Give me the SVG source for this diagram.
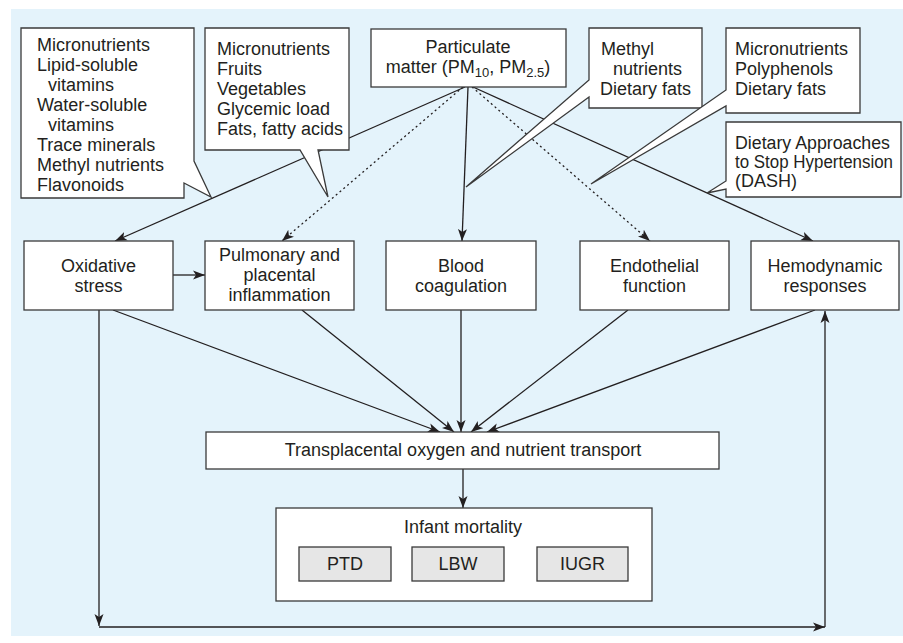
<svg xmlns="http://www.w3.org/2000/svg" width="903" height="643" viewBox="0 0 903 643">
<style>
.bg{fill:#e4f3fb}
.box{fill:#ffffff;stroke:#3a3a3a;stroke-width:1.3}
.gbox{fill:#e6e6e6;stroke:#3a3a3a;stroke-width:1.3}
.t{font-family:"Liberation Sans",Arial,sans-serif;font-size:18px;fill:#231f20}
.c{text-anchor:middle}
.ln{stroke:#231f20;stroke-width:1.3;fill:none}
.dot{stroke:#231f20;stroke-width:1.3;fill:none;stroke-dasharray:2 3}
</style>
<defs>
<marker id="ah" markerUnits="userSpaceOnUse" markerWidth="13" markerHeight="10" refX="12" refY="5" orient="auto">
<path d="M0,0.5 L12,5 L0,9.5 L3,5 Z" fill="#231f20"/>
</marker>
</defs>
<rect class="bg" x="11" y="9" width="892" height="627"/>
<g id="connectors">
<line class="ln" x1="465" y1="87" x2="115" y2="241" marker-end="url(#ah)"/>
<line class="dot" x1="463" y1="87" x2="282" y2="241" marker-end="url(#ah)"/>
<line class="ln" x1="468" y1="87" x2="462" y2="241" marker-end="url(#ah)"/>
<line class="dot" x1="472" y1="87" x2="650" y2="241" marker-end="url(#ah)"/>
<line class="ln" x1="473" y1="87" x2="813" y2="241" marker-end="url(#ah)"/>
<line class="ln" x1="173" y1="275" x2="205" y2="275" marker-end="url(#ah)"/>
<line class="ln" x1="113" y1="310" x2="440" y2="432" marker-end="url(#ah)"/>
<line class="ln" x1="302" y1="310" x2="454" y2="432" marker-end="url(#ah)"/>
<line class="ln" x1="461" y1="310" x2="461" y2="432" marker-end="url(#ah)"/>
<line class="ln" x1="628" y1="310" x2="471" y2="432" marker-end="url(#ah)"/>
<line class="ln" x1="815" y1="310" x2="487" y2="432" marker-end="url(#ah)"/>
<line class="ln" x1="463" y1="469" x2="463" y2="508" marker-end="url(#ah)"/>
<line class="ln" x1="99" y1="310" x2="99" y2="626" marker-end="url(#ah)"/>
<line class="ln" x1="99" y1="627" x2="825" y2="627" marker-end="url(#ah)"/>
<line class="ln" x1="825" y1="627" x2="825" y2="311" marker-end="url(#ah)"/>
</g>
<g id="callout-micronutrients-vitamins">
<path class="box" d="M21,28 H194 V161 L211,197 L184,183 V198 H21 Z"/>
<text class="t" x="37" y="51">Micronutrients</text>
<text class="t" x="37" y="71">Lipid-soluble</text>
<text class="t" x="48" y="91">vitamins</text>
<text class="t" x="37" y="111">Water-soluble</text>
<text class="t" x="48" y="131">vitamins</text>
<text class="t" x="37" y="151">Trace minerals</text>
<text class="t" x="37" y="171">Methyl nutrients</text>
<text class="t" x="37" y="191">Flavonoids</text>
</g>
<g id="callout-fruits">
<path class="box" d="M205,28 H349 V150 H318 L328,197 L300,150 H205 Z"/>
<text class="t" x="217" y="55">Micronutrients</text>
<text class="t" x="217" y="75">Fruits</text>
<text class="t" x="217" y="95">Vegetables</text>
<text class="t" x="217" y="115">Glycemic load</text>
<text class="t" x="217" y="135">Fats, fatty acids</text>
</g>
<g id="pm">
<rect class="box" x="371" y="29" width="195" height="58"/>
<text class="t c" x="468" y="53">Particulate</text>
<text class="t c" x="468" y="73">matter (PM<tspan font-size="13" dy="4">10</tspan><tspan dy="-4">, PM</tspan><tspan font-size="13" dy="4">2.5</tspan><tspan dy="-4">)</tspan></text>
</g>
<g id="callout-methyl">
<path class="box" d="M589,28 H702 V108 H589 V97 L466,187 L589,80 Z"/>
<text class="t" x="601" y="55">Methyl</text>
<text class="t" x="613" y="75">nutrients</text>
<text class="t" x="600" y="95">Dietary fats</text>
</g>
<g id="callout-polyphenols">
<path class="box" d="M726,28 H860 V113 H726 V106 L591,184 L726,90 Z"/>
<text class="t" x="735" y="55">Micronutrients</text>
<text class="t" x="735" y="75">Polyphenols</text>
<text class="t" x="735" y="95">Dietary fats</text>
</g>
<g id="callout-dash">
<path class="box" d="M726,122 H901 V197 H726 V189 L707,193 L726,181 Z"/>
<text class="t" x="735" y="149" textLength="155" lengthAdjust="spacingAndGlyphs">Dietary Approaches</text>
<text class="t" x="735" y="168" textLength="158" lengthAdjust="spacingAndGlyphs">to Stop Hypertension</text>
<text class="t" x="735" y="187">(DASH)</text>
</g>
<g id="oxidative">
<rect class="box" x="24" y="241" width="149" height="69"/>
<text class="t c" x="98.5" y="272">Oxidative</text>
<text class="t c" x="98.5" y="292">stress</text>
</g>
<g id="pulmonary">
<rect class="box" x="205" y="241" width="149" height="69"/>
<text class="t c" x="279.5" y="261">Pulmonary and</text>
<text class="t c" x="279.5" y="281">placental</text>
<text class="t c" x="279.5" y="301">inflammation</text>
</g>
<g id="blood">
<rect class="box" x="386" y="241" width="150" height="69"/>
<text class="t c" x="461" y="272">Blood</text>
<text class="t c" x="461" y="292">coagulation</text>
</g>
<g id="endothelial">
<rect class="box" x="580" y="241" width="149" height="69"/>
<text class="t c" x="654.5" y="272">Endothelial</text>
<text class="t c" x="654.5" y="292">function</text>
</g>
<g id="hemodynamic">
<rect class="box" x="751" y="241" width="148" height="69"/>
<text class="t c" x="825" y="272">Hemodynamic</text>
<text class="t c" x="825" y="292">responses</text>
</g>
<g id="transplacental">
<rect class="box" x="206" y="432" width="513" height="37"/>
<text class="t c" x="463" y="456">Transplacental oxygen and nutrient transport</text>
</g>
<g id="infant">
<rect class="box" x="276" y="508" width="376" height="93"/>
<text class="t c" x="463" y="533">Infant mortality</text>
</g>
<g id="ptd">
<rect class="gbox" x="299" y="547" width="92" height="34"/>
<text class="t c" x="345" y="570">PTD</text>
</g>
<g id="lbw">
<rect class="gbox" x="412" y="547" width="92" height="34"/>
<text class="t c" x="458" y="570">LBW</text>
</g>
<g id="iugr">
<rect class="gbox" x="537" y="547" width="91" height="34"/>
<text class="t c" x="582.5" y="570">IUGR</text>
</g>
</svg>
